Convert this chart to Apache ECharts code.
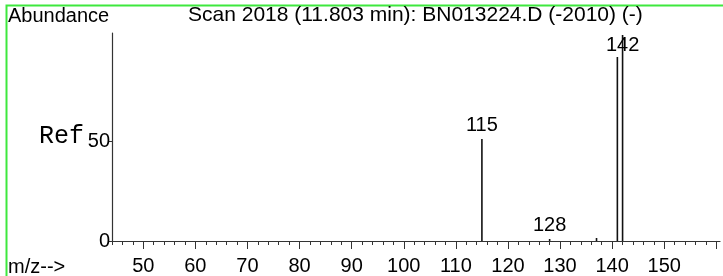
<!DOCTYPE html>
<html>
<head>
<meta charset="utf-8">
<script src="https://cdn.jsdelivr.net/npm/echarts@6/dist/echarts.min.js"></script>
<style>
  html, body { margin: 0; padding: 0; background: #fff; }
  #spec { width: 723px; height: 276px; }
</style>
</head>
<body>
<div id="spec"></div>
<script>
// peaks (m/z, relative abundance)
var mzValues = [115, 128, 137, 141, 142];
var abundance = [51, 1, 1.5, 92, 103];
var labeledPeaks = [115, 128, 142];

var majorTicks = [50, 60, 70, 80, 90, 100, 110, 120, 130, 140, 150, 160];
var xLabels = [50, 60, 70, 80, 90, 100, 110, 120, 130, 140, 150];
var minorTicks = [];
for (var t = 44; t <= 160; t += 2) { minorTicks.push(t); }
var yTicks = [0, 50];

var FONT = '"Liberation Sans", Arial, sans-serif';

var chart = echarts.init(document.getElementById('spec'));

var peakData = [];
for (var i = 0; i < mzValues.length; i++) {
    var lbl = labeledPeaks.indexOf(mzValues[i]) >= 0;
    peakData.push({
        value: [mzValues[i], abundance[i]],
        label: {
            show: lbl,
            position: mzValues[i] == 142 ? 'insideTop' : 'top',
            distance: mzValues[i] == 142 ? 0 : 4
        }
    });
}

var option = {
    animation: false,
    backgroundColor: '#fff',
    textStyle: { fontFamily: FONT },
    title: [
        { text: 'Abundance', left: 8, top: 6, textStyle: { fontFamily: FONT, fontSize: 20, fontWeight: 'normal', color: '#000' }, padding: 0 },
        { text: 'Scan 2018 (11.803 min): BN013224.D (-2010) (-)', left: 188, top: 5, textStyle: { fontFamily: FONT, fontSize: 21, fontWeight: 'normal', color: '#000' }, padding: 0 }
    ],
    graphic: [
        { type: 'rect', shape: { x: 6.5, y: 5.5, width: 800, height: 400 }, style: { fill: 'none', stroke: '#3ee83e', lineWidth: 2 }, silent: true },
        { type: 'text', left: 39, top: 124, style: { text: 'Ref', font: '25px "Liberation Mono", "Courier New", monospace', fill: '#000' } },
        { type: 'text', left: 8, top: 257, style: { text: 'm/z-->', font: '20px ' + FONT, fill: '#000' } }
    ],
    grid: { left: 112, right: 3, top: 33, bottom: 33 },
    xAxis: [
        {
            type: 'value', min: 44, max: 160.7,
            axisLine: { show: true, onZero: false, lineStyle: { color: '#333', width: 1.2 } },
            axisTick: { show: true, customValues: majorTicks, length: 8, lineStyle: { color: '#333' } },
            axisLabel: { customValues: xLabels, fontSize: 20, color: '#000', margin: 15, fontFamily: FONT },
            splitLine: { show: false }
        },
        {
            type: 'value', min: 44, max: 160.7, position: 'bottom',
            axisLine: { show: false },
            axisTick: { show: true, customValues: minorTicks, length: 4, lineStyle: { color: '#333' } },
            axisLabel: { show: false },
            splitLine: { show: false }
        }
    ],
    yAxis: {
        type: 'value', min: 0, max: 104,
        axisLine: { show: true, lineStyle: { color: '#333', width: 1.2 } },
        axisTick: { show: true, customValues: yTicks, length: 3, lineStyle: { color: '#333' } },
        axisLabel: { customValues: yTicks, fontSize: 20, color: '#000', margin: 2, fontFamily: FONT },
        splitLine: { show: false }
    },
    series: [
        {
            type: 'bar',
            xAxisIndex: 0,
            barWidth: 1.6,
            clip: false,
            itemStyle: { color: '#111' },
            label: { color: '#000', fontSize: 20, fontFamily: FONT, formatter: function (p) { return p.value[0]; } },
            data: peakData
        }
    ]
};
chart.setOption(option);
</script>
</body>
</html>
